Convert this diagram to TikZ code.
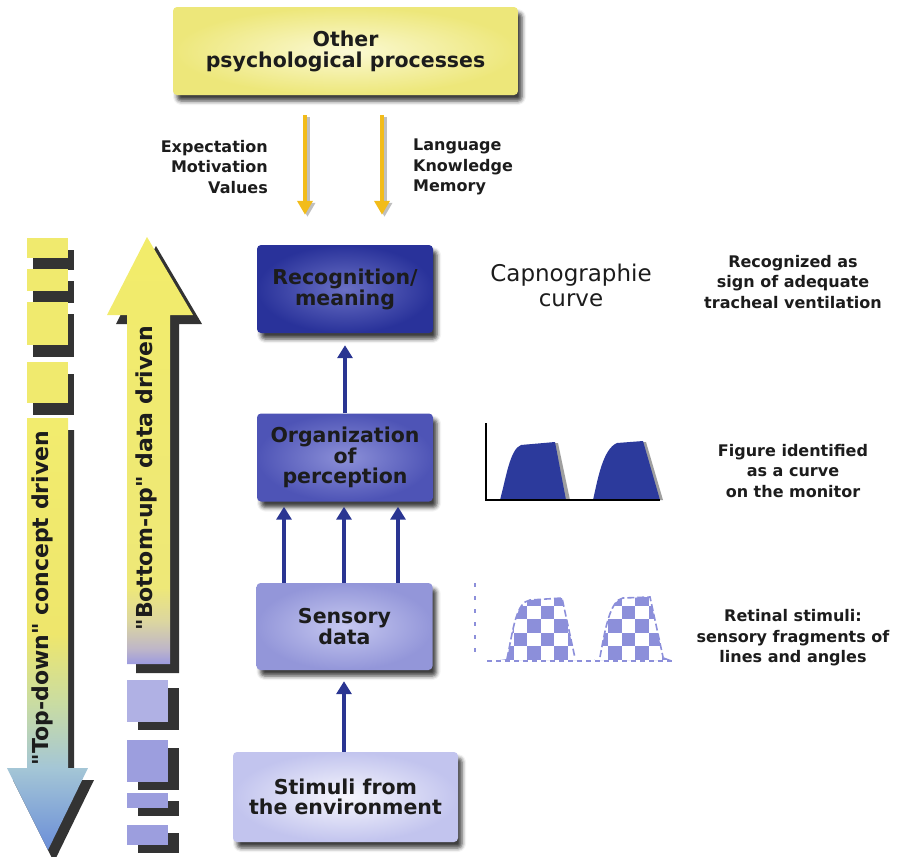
\documentclass[tikz,border=0pt]{standalone}
\usepackage{fontspec}
\setmainfont{DejaVu Sans}
\newfontfamily\arrowfont{DejaVu Sans}[Ligatures=TeXOff]
\usetikzlibrary{arrows.meta,shadows.blur,calc}

\definecolor{inkdark}{HTML}{1C1C1C}
\definecolor{navy}{HTML}{2A3592}
\definecolor{gold}{HTML}{F2BC1A}
\definecolor{lemon}{HTML}{F0EA6E}
\definecolor{lav}{HTML}{9C9EDE}
\definecolor{dropshade}{HTML}{333333}
\definecolor{chk}{HTML}{8C8FDA}
\definecolor{humpblue}{HTML}{2C3A9C}
% box fills
\definecolor{topin}{HTML}{FBF9D4}
\definecolor{topout}{HTML}{EDE77A}
\definecolor{recin}{HTML}{6A70C4}
\definecolor{recout}{HTML}{29329A}
\definecolor{orgin}{HTML}{8C90D8}
\definecolor{orgout}{HTML}{4E54B6}
\definecolor{senin}{HTML}{C6C8F0}
\definecolor{senout}{HTML}{9396D9}
\definecolor{stiin}{HTML}{F6F6FD}
\definecolor{stiout}{HTML}{C2C4EE}
% top-down arrow gradient
\definecolor{tdA}{HTML}{6B8ED8}
\definecolor{tdB}{HTML}{A4C6D6}
\definecolor{tdC}{HTML}{C9DCA2}
\definecolor{tdD}{HTML}{EEE66C}
\definecolor{tdE}{HTML}{F2EC6E}
% bottom-up arrow gradient
\definecolor{buA}{HTML}{9C9AE0}
\definecolor{buB}{HTML}{BEB6C8}
\definecolor{buC}{HTML}{DCD6A0}
\definecolor{buD}{HTML}{EEE878}
\definecolor{buE}{HTML}{F2EC6A}

\pgfdeclareverticalshading{tdshade}{100bp}{color(0bp)=(tdA); color(25bp)=(tdA); color(34.5bp)=(tdB); color(42bp)=(tdC); color(50bp)=(tdD); color(75bp)=(tdE); color(100bp)=(tdE)}
\pgfdeclareverticalshading{bushade}{100bp}{color(0bp)=(buA); color(25bp)=(buA); color(26.8bp)=(buB); color(30bp)=(buC); color(34bp)=(buD); color(75bp)=(buE); color(100bp)=(buE)}

\begin{document}
\begin{tikzpicture}[x=1pt,y=-1pt,
  stage/.style={rectangle, rounded corners=4pt, minimum width=176pt, minimum height=88pt,
    align=center, inner sep=2pt, text=inkdark,
    font=\bfseries\fontsize{20.5}{19.5}\selectfont,
    blur shadow={shadow xshift=4pt, shadow yshift=-6pt, shadow blur radius=4pt, shadow opacity=75}},
  lbl/.style={font=\bfseries\fontsize{16}{20.5}\selectfont, text=inkdark, inner sep=0pt},
  bigarrowtext/.style={rotate=90, font=\arrowfont\bfseries\fontsize{22}{24}\selectfont, text=inkdark, inner sep=0pt},
  link/.style={draw=navy, line width=3.2pt, -{Triangle[width=15pt,length=13pt]}},
  feed/.style={draw=gold, line width=4pt, -{Triangle[width=15pt,length=14pt]}},
  feedshadow/.style={draw=black!25, line width=4pt, -{Triangle[width=15pt,length=14pt]}},
  dropblock/.style={fill=dropshade},
]
\useasboundingbox (0,0) rectangle (898,857);

% ---------- main stages ----------
\node[stage, minimum width=345pt, minimum height=88pt, inner color=topin, outer color=topout,
      font=\bfseries\fontsize{20.5}{21}\selectfont] (other) at (345.5,51) {Other\\psychological processes};
\node[stage, inner color=recin, outer color=recout] (rec) at (345,289) {Recognition/\\meaning};
\node[stage, inner color=orgin, outer color=orgout] (org) at (345,457.5) {Organization\\of\\perception};
\node[stage, minimum height=87pt, inner color=senin, outer color=senout] (sens) at (344.5,626.5) {Sensory\\data};
\node[stage, minimum width=225pt, minimum height=90pt, inner color=stiin, outer color=stiout] (stim) at (345.5,797) {Stimuli from\\the environment};

% ---------- influences from above ----------
\coordinate (fa) at (305,0);
\coordinate (fb) at (382,0);
\coordinate (fas) at (307.5,0);
\coordinate (fbs) at (384.5,0);
\draw[feedshadow, shorten <=22pt, shorten >=28pt] (other.south -| fas) -- (rec.north -| fas);
\draw[feedshadow, shorten <=22pt, shorten >=28pt] (other.south -| fbs) -- (rec.north -| fbs);
\draw[feed, shorten <=20pt, shorten >=30pt] (other.south -| fa) -- (rec.north -| fa);
\draw[feed, shorten <=20pt, shorten >=30pt] (other.south -| fb) -- (rec.north -| fb);

\node[lbl, align=right, anchor=east] (lefts) at (268,167) {Expectation\\Motivation\\Values};
\node[lbl, align=left, anchor=west] (rights) at (413,167) {Language\\Knowledge\\Memory};

% ---------- bottom-up links ----------
\coordinate (la) at (284,0);
\coordinate (lb) at (344,0);
\coordinate (lc) at (398,0);
\draw[link, shorten >=12pt] (org.north) -- (rec.south);
\draw[link, shorten >=5pt] (sens.north -| la) -- (org.south -| la);
\draw[link, shorten >=5pt] (sens.north -| lb) -- (org.south -| lb);
\draw[link, shorten >=5pt] (sens.north -| lc) -- (org.south -| lc);
\draw[link, shorten >=11pt] (stim.north -| lb) -- (sens.south -| lb);

% ---------- right-hand descriptions ----------
\node[font=\fontsize{23}{25}\selectfont, text=inkdark, align=center, inner sep=0pt] (capno) at (571,285) {Capnographie\\curve};
\node[lbl, align=center] (d1) at (793,282) {Recognized as\\sign of adequate\\tracheal ventilation};
\node[lbl, align=center] (d2) at (793,471) {Figure identified\\as a curve\\on the monitor};
\node[lbl, align=center] (d3) at (793,638) {Retinal stimuli:\\sensory fragments of\\lines and angles};

% ---------- monitor curve ----------
\fill[gray!75] (503,500) .. controls (509,478) and (513,450) .. (524,445) -- (558,443) -- (570,500) -- cycle;
\fill[gray!75] (596,500) .. controls (601,478) and (606,450) .. (620,444) -- (646,442) -- (663,500) -- cycle;
\fill[humpblue] (500,500) .. controls (506,478) and (510,449) .. (521,445) -- (555,442) -- (566,500) -- cycle;
\fill[humpblue] (593,500) .. controls (598,478) and (603,449) .. (617,443) -- (643,441) -- (660,500) -- cycle;
\draw[black, line width=2.8pt] (486,423) -- (486,500) -- (660,500);

% ---------- fragmented curve ----------
\begin{scope}
  \clip (500,660) -- (507,659) .. controls (513,630) and (516,602) .. (530,600) -- (562,598) -- (575,658) -- (580,660) -- cycle
        (594,660) -- (600,657) .. controls (605,630) and (610,600) .. (623,598) -- (650,597) -- (663,657) -- (671,660) -- cycle;
  \foreach \a in {0,...,7} {
    \foreach \b in {0,...,2} {
      \fill[chk] (500+27*\a, 592+27*\b) rectangle ++(13.5,13.5);
      \fill[chk] (513.5+27*\a, 605.5+27*\b) rectangle ++(13.5,13.5);
    }
  }
\end{scope}
\draw[chk, line width=1.6pt, dash pattern=on 7pt off 3pt]
  (507,659) .. controls (513,630) and (516,602) .. (530,600) -- (562,598) -- (575,658);
\draw[chk, line width=1.6pt, dash pattern=on 7pt off 3pt]
  (600,657) .. controls (605,630) and (610,600) .. (623,598) -- (650,597) -- (663,657);
\draw[chk, line width=2.5pt, dash pattern=on 4pt off 9pt] (475,583) -- (475,656);
\draw[chk, line width=2pt, dash pattern=on 5pt off 4pt] (487,661) -- (673,661);

% ---------- top-down column ----------
\begin{scope}[shift={(6,12)}]
  \fill[dropblock] (27,238) rectangle (68,258);
  \fill[dropblock] (27,269) rectangle (68,291);
  \fill[dropblock] (27,302) rectangle (68,345);
  \fill[dropblock] (27,362) rectangle (68,403);
  \fill[dropblock] (27,418) -- (68,418) -- (68,768) -- (88,768) -- (48,850) -- (7,768) -- (27,768) -- cycle;
\end{scope}
\fill[lemon] (27,238) rectangle (68,258);
\fill[lemon] (27,269) rectangle (68,291);
\fill[lemon] (27,302) rectangle (68,345);
\fill[lemon] (27,362) rectangle (68,403);
\shade[shading=tdshade] (27,418) -- (68,418) -- (68,768) -- (88,768) -- (48,850) -- (7,768) -- (27,768) -- cycle;
\node[bigarrowtext] (tdtext) at (42,598) {"Top-down" concept driven};

% ---------- bottom-up column ----------
\begin{scope}[shift={(9,9)}]
  \fill[dropblock] (107,315) -- (147,237) -- (193,315) -- (170,315) -- (170,664) -- (127,664) -- (127,315) -- cycle;
\end{scope}
\begin{scope}[shift={(11,8)}]
  \fill[dropblock] (127,680) rectangle (168,722);
  \fill[dropblock] (127,740) rectangle (168,782);
  \fill[dropblock] (127,793) rectangle (168,808);
  \fill[dropblock] (127,825) rectangle (168,845);
\end{scope}
\shade[shading=bushade] (107,315) -- (147,237) -- (193,315) -- (170,315) -- (170,664) -- (127,664) -- (127,315) -- cycle;
\fill[lav!80] (127,680) rectangle (168,722);
\fill[lav] (127,740) rectangle (168,782);
\fill[lav] (127,793) rectangle (168,808);
\fill[lav] (127,825) rectangle (168,845);
\node[bigarrowtext] (butext) at (146,478) {"Bottom-up" data driven};

\end{tikzpicture}
\end{document}
